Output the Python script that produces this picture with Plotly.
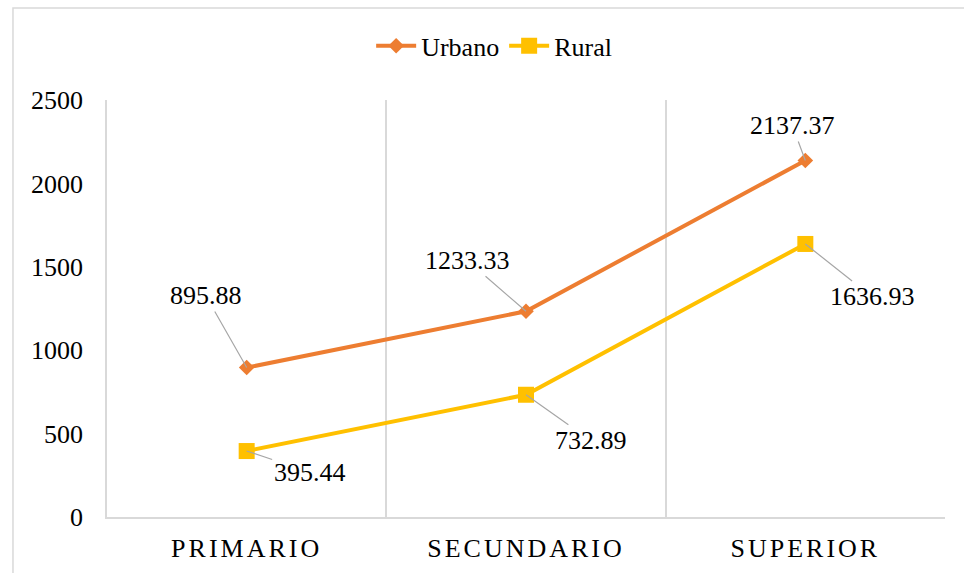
import plotly.graph_objects as go

categories = ["PRIMARIO", "SECUNDARIO", "SUPERIOR"]
urbano = [895.88, 1233.33, 2137.37]
rural = [395.44, 732.89, 1636.93]
y_ticks = [0, 500, 1000, 1500, 2000, 2500]

# label offsets in pixels (ax, ay) for each data label
urbano_offsets = [(-41, -72), (-59, -51), (-13, -35)]
rural_offsets = [(63, 21), (65, 46), (67, 53)]

FONT = "Times New Roman"
ORANGE = "#ED7D31"
GOLD = "#FFC000"
GRID = "#d9d9d9"

fig = go.Figure()
fig.add_trace(go.Scatter(
    x=categories, y=urbano, name="Urbano", mode="lines+markers",
    line=dict(color=ORANGE, width=4),
    marker=dict(symbol="diamond", size=12, color=ORANGE),
))
fig.add_trace(go.Scatter(
    x=categories, y=rural, name="Rural", mode="lines+markers",
    line=dict(color=GOLD, width=4),
    marker=dict(symbol="square", size=16, color=GOLD),
))

annotations = []
for series, offs in ((urbano, urbano_offsets), (rural, rural_offsets)):
    for cat, val, (ax, ay) in zip(categories, series, offs):
        annotations.append(dict(
            x=cat, y=val, xref="x", yref="y",
            text=f"{val:.2f}", showarrow=True, arrowhead=0,
            arrowwidth=1.2, arrowcolor="#a6a6a6", ax=ax, ay=ay,
            standoff=0, font=dict(family=FONT, size=26, color="#000000"),
        ))

fig.update_layout(
    width=964, height=573,
    margin=dict(l=107, r=19, t=100, b=56, autoexpand=False),
    paper_bgcolor="white", plot_bgcolor="white",
    font=dict(family=FONT, size=26, color="#000000"),
    showlegend=True,
    legend=dict(orientation="h", x=0.462, xanchor="center", y=1.13, yanchor="middle",
                font=dict(family=FONT, size=26, color="#000000"),
                bgcolor="rgba(0,0,0,0)", itemwidth=40, tracegroupgap=0),
    annotations=annotations,
    shapes=[dict(type="rect", xref="paper", yref="paper",
                 x0=-0.1122, x1=1.04, y0=-0.2, y1=1.2206,
                 line=dict(color=GRID, width=1.5), fillcolor="rgba(0,0,0,0)", layer="below")],
)
fig.update_xaxes(
    type="category", categoryorder="array", categoryarray=categories,
    range=[-0.5, 2.5], automargin=False,
    tickson="boundaries", showgrid=True, gridcolor=GRID, gridwidth=1.5,
    showline=True, linecolor=GRID, linewidth=1.5,
    ticks="outside", ticklen=14, tickcolor="rgba(0,0,0,0)", ticklabelstandoff=7,
    tickfont=dict(family=FONT, size=26, color="#000000"),
    zeroline=False, fixedrange=True,
)
fig.update_yaxes(
    range=[0, 2500], tickvals=y_ticks, ticktext=[str(v) for v in y_ticks],
    showgrid=False, zeroline=False, automargin=False,
    showline=True, linecolor=GRID, linewidth=1.5,
    ticks="outside", ticklen=17, tickcolor="rgba(0,0,0,0)",
    tickfont=dict(family=FONT, size=26, color="#000000"),
)

post = """
document.body.style.margin='0';
document.querySelectorAll('.xtick text').forEach(function(t){t.setAttribute('letter-spacing','3px');});
"""
fig.write_html("out.html", post_script=post, config={"displayModeBar": False})
